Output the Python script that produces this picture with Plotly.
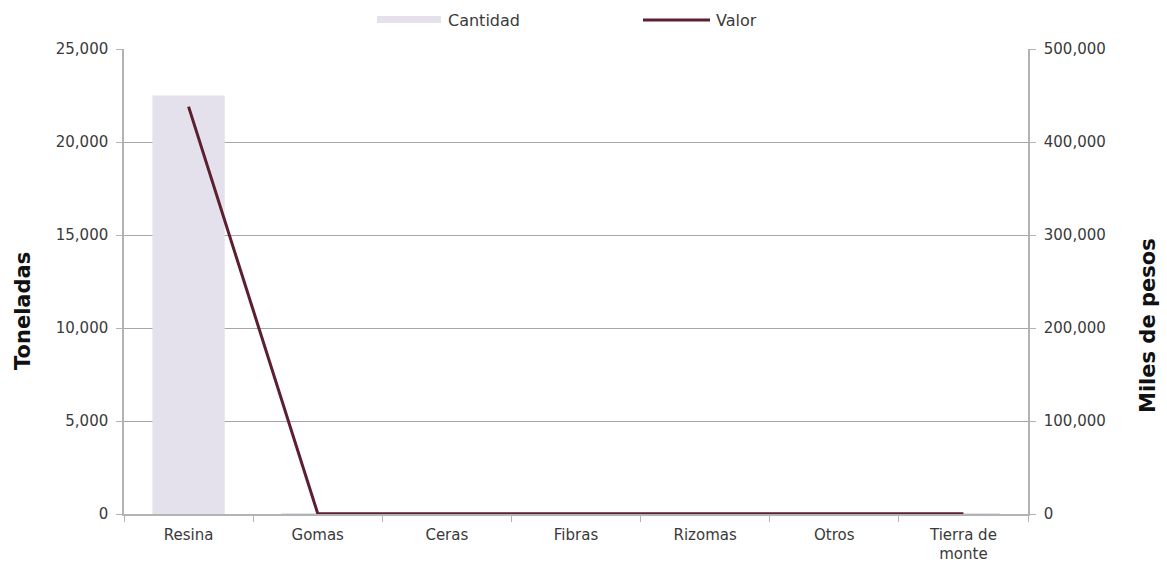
import plotly.graph_objects as go

categorias = ["Resina", "Gomas", "Ceras", "Fibras", "Rizomas", "Otros", "Tierra de<br>monte"]
cantidad = [22500, 20, 5, 10, 5, 15, 30]
valor = [438000, 600, 300, 400, 200, 500, 300]

FONT = "DejaVu Sans"
TXT = "#3a3a3a"
GRID = "#a6a6a6"
AXIS = "#b3b3b3"
BAR_COLOR = "#e4e0ec"
LINE_COLOR = "#5c1f2f"

fig = go.Figure()
fig.add_trace(go.Bar(
    x=categorias, y=cantidad, name="Cantidad",
    marker=dict(color=BAR_COLOR, line=dict(width=0)),
))
fig.add_trace(go.Scatter(
    x=categorias, y=valor, name="Valor", yaxis="y2", mode="lines",
    line=dict(color=LINE_COLOR, width=3),
))

W, H = 1167, 566
L, R, T, B = 124, 139, 49, 52
pw = W - L - R
ph = H - T - B

def px_x(x):
    return (x - L) / pw

def px_y(y):
    return (H - B - y) / ph

shapes = [
    dict(type="rect", xref="paper", yref="paper",
         x0=px_x(377), x1=px_x(441), y0=px_y(23), y1=px_y(16),
         fillcolor=BAR_COLOR, line=dict(width=0)),
    dict(type="line", xref="paper", yref="paper",
         x0=px_x(643), x1=px_x(710), y0=px_y(20), y1=px_y(20),
         line=dict(color=LINE_COLOR, width=3)),
]
annotations = [
    dict(text="Cantidad", xref="paper", yref="paper", x=px_x(446), y=px_y(20),
         xanchor="left", yanchor="middle", showarrow=False,
         font=dict(family=FONT, size=16, color=TXT)),
    dict(text="Valor", xref="paper", yref="paper", x=px_x(714), y=px_y(20),
         xanchor="left", yanchor="middle", showarrow=False,
         font=dict(family=FONT, size=16, color=TXT)),
    dict(text="<b>Toneladas</b>", xref="paper", yref="paper", x=px_x(23), y=px_y(311),
         xanchor="center", yanchor="middle", showarrow=False, textangle=-90,
         font=dict(family=FONT, size=21, color="#111111")),
    dict(text="<b>Miles de pesos</b>", xref="paper", yref="paper", x=px_x(1148), y=px_y(326),
         xanchor="center", yanchor="middle", showarrow=False, textangle=-90,
         font=dict(family=FONT, size=21, color="#111111")),
]

fig.update_layout(
    width=W, height=H,
    margin=dict(l=L, r=R, t=T, b=B, autoexpand=False),
    paper_bgcolor="white", plot_bgcolor="white",
    font=dict(family=FONT, size=15, color=TXT),
    bargap=0.44,
    showlegend=False,
    shapes=shapes,
    annotations=annotations,
    xaxis=dict(
        automargin=False,
        showline=True, linecolor=AXIS, linewidth=1.5,
        ticks="outside", tickson="boundaries", ticklen=6, tickcolor=AXIS,
        tickfont=dict(family=FONT, size=15, color=TXT), showgrid=False,
        ticklabelstandoff=6,
    ),
    yaxis=dict(
        automargin=False,
        range=[0, 25000], dtick=5000, tickformat=",",
        showline=True, linecolor=AXIS, linewidth=1.5,
        ticks="outside", ticklen=6, tickcolor=AXIS,
        showgrid=True, gridcolor=GRID, gridwidth=1.2, zeroline=False,
        tickfont=dict(family=FONT, size=15, color=TXT),
        ticklabelstandoff=5,
    ),
    yaxis2=dict(
        automargin=False,
        range=[0, 500000], dtick=100000, tickformat=",",
        overlaying="y", side="right",
        showline=True, linecolor=AXIS, linewidth=1.5,
        ticks="outside", ticklen=6, tickcolor=AXIS,
        showgrid=False, zeroline=False,
        tickfont=dict(family=FONT, size=15, color=TXT),
        ticklabelstandoff=5,
    ),
)

fig.write_html(
    "out.html",
    config={"displayModeBar": False},
    post_script="document.body.style.margin='0';document.body.style.overflow='hidden';",
)
